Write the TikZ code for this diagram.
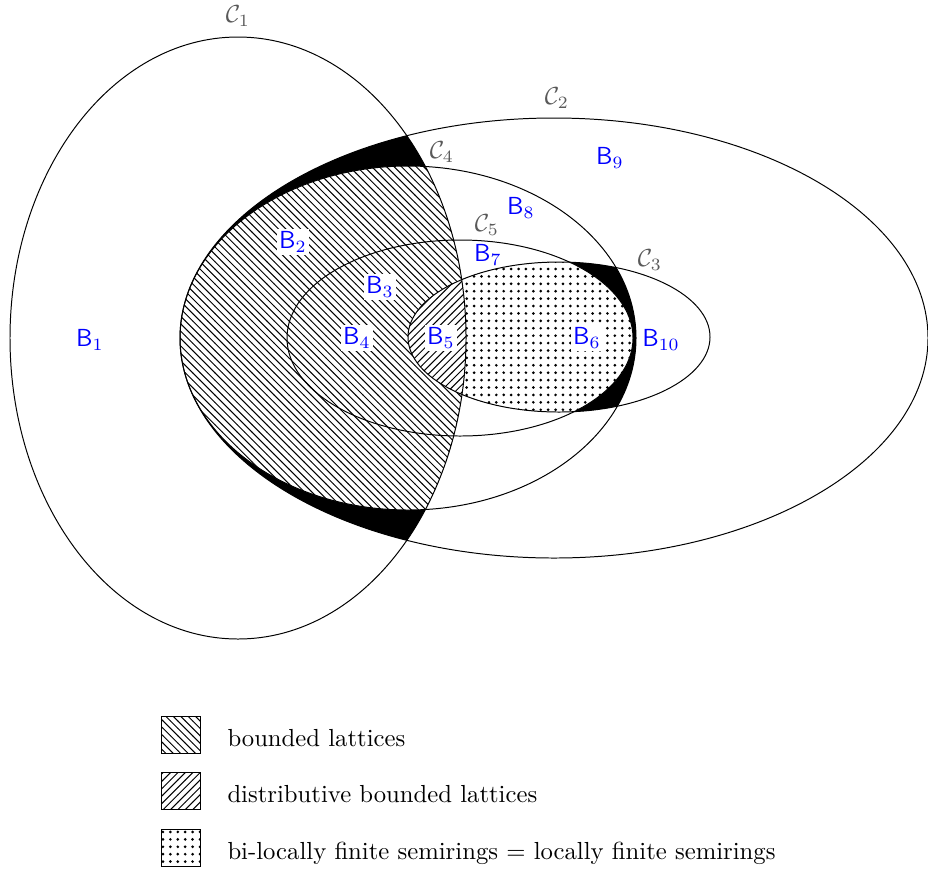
\documentclass[tikz,border=0pt]{standalone}
\usetikzlibrary{patterns,patterns.meta}
\definecolor{lblgray}{gray}{0.35}
\begin{document}
\begin{tikzpicture}[x=0.405pt,y=-0.405pt,
  blab/.style={text=blue, fill=white, inner sep=1pt, font=\sffamily},
  clab/.style={text=lblgray, inner sep=0pt},
  outline/.style={draw=black, line width=0.4pt},
  dotfill/.style={pattern={Dots[radius=0.6pt, distance=3pt]}},
  legbox/.style={draw=black, line width=0.4pt, minimum width=15.4pt, minimum height=15pt, inner sep=0pt},
  legtext/.style={anchor=base west, inner sep=0pt}]
\useasboundingbox (0,0) rectangle (928,869);
\def\Cone{(238,338) ellipse [x radius=228, y radius=301]}
\def\Ctwo{(554,338) ellipse [x radius=374, y radius=220]}
\def\Cthree{(559,337) ellipse [x radius=151, y radius=75]}
\def\Cfour{(408,338) ellipse [x radius=228, y radius=172]}
\def\Cfive{(460,338) ellipse [x radius=173, y radius=98]}
% right black crescent and dotted region
\begin{scope}
  \clip \Cthree;
  \fill[black] \Cfour;
  \fill[white] \Cfive;
  \fill[dotfill] \Cfive;
\end{scope}
% left black and bounded lattices hatch
\begin{scope}
  \clip \Cone;
  \fill[black] \Ctwo;
  \fill[white] \Cfour;
  \fill[pattern=north west lines] \Cfour;
\end{scope}
% distributive bounded lattices
\begin{scope}
  \clip \Cone;
  \clip \Cthree;
  \fill[white] \Cthree;
  \fill[pattern=north east lines] \Cthree;
\end{scope}
% region labels
\node[blab] (b1) at (90,340) {B$_1$};
\node[blab] (b2) at (293,242) {B$_2$};
\node[blab] (b3) at (380,287) {B$_3$};
\node[blab] (b4) at (357,338) {B$_4$};
\node[blab] (b5) at (441,338) {B$_5$};
\node[blab] (b6) at (587,338) {B$_6$};
\node[blab] (b7) at (488,255) {B$_7$};
\node[blab] (b8) at (521,208) {B$_8$};
\node[blab] (b9) at (610,158) {B$_9$};
\node[blab] (b10) at (661,340) {B$_{10}$};
% outlines
\draw[outline] \Cone;
\draw[outline] \Ctwo;
\draw[outline] \Cthree;
\draw[outline] \Cfour;
\draw[outline] \Cfive;
% circle labels
\node[clab] (c1) at (238,16) {$\mathcal{C}_1$};
\node[clab] (c2) at (557,98) {$\mathcal{C}_2$};
\node[clab] (c3) at (650,260) {$\mathcal{C}_3$};
\node[clab] (c4) at (442,152) {$\mathcal{C}_4$};
\node[clab] (c5) at (487,225) {$\mathcal{C}_5$};
% legend
\node[legbox, pattern=north west lines] (l1) at (181,734.5) {};
\node[legbox, pattern=north east lines] (l2) at (181,791) {};
\node[legbox, dotfill] (l3) at (181,847.5) {};
\node[legtext] (t1) at (227,746) {bounded lattices};
\node[legtext] (t2) at (227,802) {distributive bounded lattices};
\node[legtext] (t3) at (227,859) {bi-locally finite semirings = locally finite semirings};
\end{tikzpicture}
\end{document}
